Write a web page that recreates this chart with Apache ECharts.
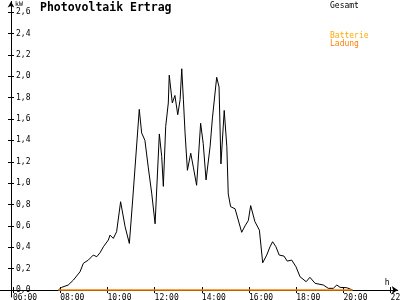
<!DOCTYPE html>
<html>
<head>
<meta charset="utf-8">
<script src="https://cdn.jsdelivr.net/npm/echarts@6/dist/echarts.min.js"></script>
<style>html,body{margin:0;padding:0;background:#fff}#c{width:400px;height:300px}</style>
</head>
<body>
<div id="c"></div>
<script>
// time of day in hours
var gesamtTimes = [7.92, 8.06, 8.34, 8.56, 8.84, 8.98, 9.19, 9.40, 9.55, 9.69, 9.83, 10.04, 10.11, 10.25, 10.39, 10.56, 10.75, 10.93, 11.07, 11.35, 11.45, 11.59, 11.73, 11.88, 12.02, 12.20, 12.30, 12.37, 12.47, 12.58, 12.62, 12.75, 12.86, 12.98, 13.08, 13.15, 13.22, 13.29, 13.39, 13.53, 13.64, 13.78, 13.95, 14.06, 14.18, 14.35, 14.45, 14.63, 14.73, 14.81, 14.95, 15.06, 15.12, 15.22, 15.41, 15.69, 15.83, 15.97, 16.07, 16.25, 16.44, 16.58, 16.75, 16.89, 17.00, 17.14, 17.28, 17.48, 17.62, 17.81, 17.99, 18.16, 18.42, 18.58, 18.80, 19.15, 19.36, 19.57, 19.72, 19.86, 20.14, 20.39];
// kW
var gesamtValues = [0, 0.025, 0.047, 0.094, 0.171, 0.25, 0.28, 0.327, 0.312, 0.35, 0.405, 0.468, 0.514, 0.483, 0.546, 0.826, 0.592, 0.436, 0.842, 1.69, 1.47, 1.40, 1.15, 0.90, 0.62, 1.46, 1.25, 0.97, 1.53, 1.75, 2.01, 1.75, 1.82, 1.64, 1.78, 2.07, 1.78, 1.47, 1.12, 1.28, 1.15, 0.98, 1.56, 1.37, 1.03, 1.34, 1.61, 1.99, 1.90, 1.18, 1.68, 1.34, 0.90, 0.78, 0.76, 0.54, 0.60, 0.65, 0.79, 0.64, 0.56, 0.255, 0.327, 0.405, 0.452, 0.405, 0.327, 0.318, 0.271, 0.28, 0.218, 0.125, 0.078, 0.119, 0.063, 0.047, 0.016, 0.016, 0.047, 0.025, 0.022, 0];
var ladungTimes = [7.92, 20.39];
var ladungValues = [0, 0];
var xTicks = [6, 8, 10, 12, 14, 16, 18, 20, 22];
var yTicks = [0, 0.2, 0.4, 0.6, 0.8, 1.0, 1.2, 1.4, 1.6, 1.8, 2.0, 2.2, 2.4, 2.6];
var legendNames = ['Gesamt', 'Batterie', 'Ladung'];
var titleText = 'Photovoltaik Ertrag';

function zip(a, b) { return a.map(function (t, i) { return [t, b[i]]; }); }
function fmtX(v) { return (v < 10 ? '0' : '') + v + ':00'; }
function fmtY(v) { return v.toFixed(1).replace('.', ','); }

var mono = 'DejaVu Sans Mono';
var chart = echarts.init(document.getElementById('c'), null, { renderer: 'canvas' });
var xBase = {
  type: 'value', min: 5.449, max: 22.3,
  splitLine: { show: false }
};
var yBase = {
  type: 'value', min: -0.065, max: 2.7,
  splitLine: { show: false }
};
function txt(size, color, bold) {
  return { fontFamily: mono, fontWeight: bold ? 'bold' : 'normal', fontSize: size, color: color };
}
chart.setOption({
  animation: false,
  backgroundColor: '#ffffff',
  title: [
    { text: titleText, left: 40, top: 2.5, padding: 0, textStyle: txt(11.5, '#000', true) },
    { text: legendNames[0], left: 330, top: 1.5, padding: 0, textStyle: txt(8, '#000') },
    { text: legendNames[1], left: 330, top: 32, padding: 0, textStyle: txt(8, '#ffaa00') },
    { text: legendNames[2], left: 330, top: 40, padding: 0, textStyle: txt(8, '#ff8000') }
  ],
  grid: { left: 0, right: 2.3, top: 1.4, bottom: 3, containLabel: false, outerBoundsMode: 'none' },
  xAxis: [
    Object.assign({}, xBase, {
      position: 'bottom',
      name: 'h', nameLocation: 'end', nameGap: -13,
      nameTextStyle: { fontFamily: mono, fontSize: 8, color: '#000', verticalAlign: 'bottom', padding: [0, 0, 3, 0] },
      axisLine: { show: true, onZero: true, lineStyle: { color: '#000', width: 1 }, symbol: ['none', 'arrow'], symbolSize: [6, 6] },
      axisTick: { show: true, length: 3, customValues: xTicks, lineStyle: { color: '#000' } },
      axisLabel: { show: true, customValues: xTicks, formatter: fmtX, align: 'left', margin: -3, fontFamily: mono, fontSize: 8, color: '#000' }
    }),
    Object.assign({}, xBase, {
      position: 'bottom',
      axisLine: { show: false, onZero: true },
      axisTick: { show: true, inside: true, length: 3, customValues: xTicks, lineStyle: { color: '#000' } },
      axisLabel: { show: false }
    })
  ],
  yAxis: [
    Object.assign({}, yBase, {
      position: 'left',
      offset: -11,
      name: 'kW', nameLocation: 'end', nameGap: -6,
      nameTextStyle: { fontFamily: mono, fontSize: 6.5, color: '#000', align: 'left', padding: [0, 0, 0, 4] },
      axisLine: { show: true, onZero: false, lineStyle: { color: '#000', width: 1 }, symbol: ['none', 'arrow'], symbolSize: [5, 6] },
      axisTick: { show: true, length: 3, customValues: yTicks, lineStyle: { color: '#000' } },
      axisLabel: { show: true, inside: true, customValues: yTicks, formatter: fmtY, margin: 5, fontFamily: mono, fontSize: 8, color: '#000' }
    }),
    Object.assign({}, yBase, {
      position: 'left',
      offset: -11,
      axisLine: { show: false, onZero: false },
      axisTick: { show: true, inside: true, length: 3, customValues: yTicks, lineStyle: { color: '#000' } },
      axisLabel: { show: false }
    })
  ],
  series: [
    {
      name: legendNames[0], type: 'line', xAxisIndex: 0, yAxisIndex: 0,
      data: zip(gesamtTimes, gesamtValues), showSymbol: false, symbol: 'none',
      lineStyle: { color: '#000', width: 1 }, z: 3
    },
    {
      name: legendNames[2], type: 'line', xAxisIndex: 0, yAxisIndex: 0,
      data: zip(ladungTimes, ladungValues), showSymbol: false, symbol: 'none',
      lineStyle: { color: '#ff8000', width: 1.5 }, z: 4
    }
  ]
});
</script>
</body>
</html>
